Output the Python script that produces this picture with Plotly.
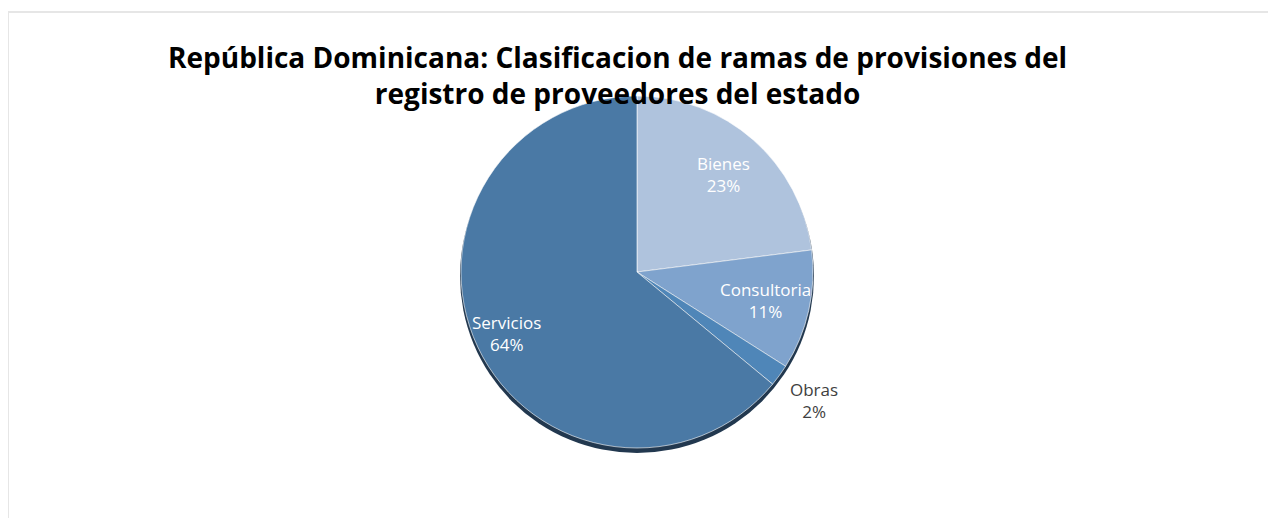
import math
import plotly.graph_objects as go

labels = ["Bienes", "Consultoria", "Obras", "Servicios"]
values = [23, 11, 2, 64]
colors = ["#AFC3DD", "#7FA3CD", "#4F86B8", "#4A79A5"]
label_colors = ["#FFFFFF", "#FFFFFF", "#404040", "#FFFFFF"]
label_radius = [0.74, 0.75, 1.24, 0.82]

W, H = 1276, 518
OFF = 8  # page body margin offset
cx, cy, r = 637 - OFF, 272 - OFF, 176

fig = go.Figure()
# subtle shadow
fig.add_trace(go.Pie(
    values=[1], marker=dict(colors=["#22384F"], line=dict(width=0)),
    textinfo="none", hoverinfo="skip", sort=False, showlegend=False,
    domain=dict(x=[(cx - r - 1) / W, (cx + r + 1) / W],
                y=[(H - (cy + 4) - r - 1) / H, (H - (cy + 4) + r + 1) / H]),
))
fig.add_trace(go.Pie(
    labels=labels, values=values, sort=False, direction="clockwise", rotation=0,
    marker=dict(colors=colors, line=dict(color="#FFFFFF", width=0.6)),
    textinfo="none", showlegend=False,
    domain=dict(x=[(cx - r) / W, (cx + r) / W], y=[(H - cy - r) / H, (H - cy + r) / H]),
))

total = sum(values)
cum = 0
for lab, v, col, fr in zip(labels, values, label_colors, label_radius):
    mid = (cum + v / 2) / total * 2 * math.pi
    cum += v
    px = cx + fr * r * math.sin(mid)
    py = cy - fr * r * math.cos(mid)
    fig.add_annotation(
        x=px / W, y=1 - py / H, xref="paper", yref="paper", showarrow=False,
        xanchor="center", yanchor="middle",
        text=f"{lab}<br>{round(v / total * 100)}%", align="center",
        font=dict(family="Open Sans, sans-serif", size=17, color=col),
    )

fig.add_annotation(
    x=(617 - OFF) / W, y=1 - (75 - OFF) / H, xref="paper", yref="paper", showarrow=False,
    xanchor="center", yanchor="middle",
    text="República Dominicana: Clasificacion de ramas de provisiones del<br>registro de proveedores del estado",
    align="center",
    font=dict(family="Open Sans, sans-serif", size=28, color="#000000", weight="bold"),
)

fig.add_shape(type="line", xref="paper", yref="paper", x0=0, x1=1, y0=1 - (12 - OFF) / H, y1=1 - (12 - OFF) / H,
              line=dict(color="#E6E6E6", width=2))
fig.add_shape(type="line", xref="paper", yref="paper", x0=0, x1=0, y0=0, y1=1 - (12 - OFF) / H,
              line=dict(color="#E6E6E6", width=2))

fig.update_layout(width=W, height=H, margin=dict(l=0, r=0, t=0, b=0),
                  paper_bgcolor="#FFFFFF", plot_bgcolor="#FFFFFF")
fig.write_html("out.html")
